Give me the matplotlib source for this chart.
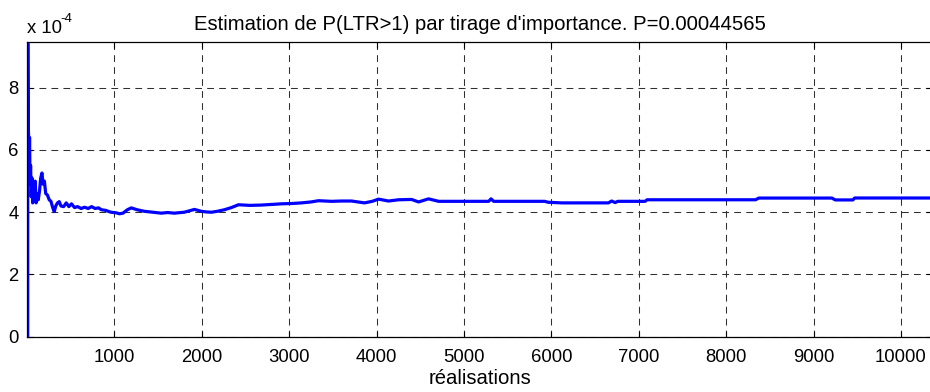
import matplotlib
matplotlib.use("Agg")
import matplotlib.pyplot as plt
from matplotlib.ticker import FuncFormatter, FixedLocator

plt.rcParams['font.family'] = ['Liberation Sans', 'DejaVu Sans']

title = "Estimation de P(LTR>1) par tirage d'importance. P=0.00044565"
xlabel = "réalisations"

# realisation index
realisations = [1, 9, 10, 13, 16, 18, 24, 30, 36, 42, 50, 58, 66, 75, 85, 95, 105, 118, 130,
                145, 158, 172, 185, 200, 215, 235, 255, 275, 295, 313, 330, 350, 370, 390,
                420, 450, 480, 510, 545, 580, 620, 660, 700, 740, 780, 820, 851, 900, 960,
                1022, 1060, 1099, 1150, 1194, 1260, 1343, 1440, 1538, 1610, 1687, 1800,
                1917, 1996, 2050, 2111, 2180, 2260, 2340, 2420, 2550, 2683, 2800, 2912,
                3030, 3141, 3250, 3336, 3484, 3600, 3714, 3863, 3950, 4023, 4137, 4252,
                4401, 4481, 4595, 4710, 5008, 5283, 5310, 5340, 5924, 5964, 6118, 6653,
                6690, 6730, 6760, 7073, 7095, 8336, 8374, 9210, 9248, 9450, 9470, 10355]

# running estimate of P (x 1e-4)
estimate_e4 = [0.0, 0.0, 9.47, 7.3, 6.0, 6.55, 5.2, 6.4, 4.9, 5.5, 4.5, 5.1, 4.3, 4.9, 4.6,
               5.0, 4.3, 4.6, 4.4, 4.7, 5.1, 5.26, 4.9, 5.0, 4.6, 4.55, 4.4, 4.35, 4.15,
               4.02, 4.2, 4.3, 4.34, 4.2, 4.18, 4.3, 4.18, 4.27, 4.15, 4.18, 4.12, 4.16,
               4.12, 4.18, 4.12, 4.14, 4.08, 4.06, 4.0, 3.98, 3.95, 3.97, 4.08, 4.14, 4.08,
               4.03, 4.0, 3.97, 3.99, 3.97, 4.0, 4.09, 4.03, 4.01, 4.0, 4.03, 4.08, 4.15,
               4.24, 4.22, 4.23, 4.25, 4.27, 4.28, 4.30, 4.33, 4.37, 4.35, 4.36, 4.36,
               4.30, 4.35, 4.42, 4.36, 4.40, 4.41, 4.33, 4.43, 4.35, 4.35, 4.35, 4.43,
               4.35, 4.35, 4.32, 4.30, 4.30, 4.36, 4.31, 4.35, 4.35, 4.40, 4.40, 4.455,
               4.455, 4.395, 4.395, 4.457, 4.4565]

estimate = [v * 1e-4 for v in estimate_e4]

xticks = [1000, 2000, 3000, 4000, 5000, 6000, 7000, 8000, 9000, 10000]
yticks_e4 = [0, 2, 4, 6, 8]

fig = plt.figure(figsize=(9.30, 3.92), dpi=100)
ax = fig.add_axes([27 / 930, (392 - 336.7) / 392, 905 / 930, (336.7 - 42) / 392])

ax.plot(realisations, estimate, color=(0, 0, 1), lw=2.3, solid_joinstyle='round')

ax.set_xlim(1, 10355)
ax.set_ylim(0, 9.47e-4)
ax.xaxis.set_major_locator(FixedLocator(xticks))
ax.yaxis.set_major_locator(FixedLocator([v * 1e-4 for v in yticks_e4]))
ax.yaxis.set_major_formatter(FuncFormatter(lambda v, p: "%g" % round(v / 1e-4, 6)))

ax.grid(True, color='#303030', lw=0.75, linestyle=(0, (6.5, 5)))
ax.tick_params(direction='in', length=4, width=0.8, labelsize=13.3, top=True, right=True,
               color='black')
ax.tick_params(axis='x', pad=9)
ax.tick_params(axis='y', pad=6)
for s in ax.spines.values():
    s.set_linewidth(0.9)
ax.spines['right'].set_visible(False)

ax.set_title(title, fontsize=14.6, pad=9)
ax.set_xlabel(xlabel, fontsize=14.6, labelpad=2)

fig.text(27 / 930, 1 - 33 / 392, "x 10", fontsize=13.3, ha='left', va='baseline')
fig.text(60 / 930, 1 - 22 / 392, "-4", fontsize=9.5, ha='left', va='baseline')

fig.savefig("out.png", dpi=100)
